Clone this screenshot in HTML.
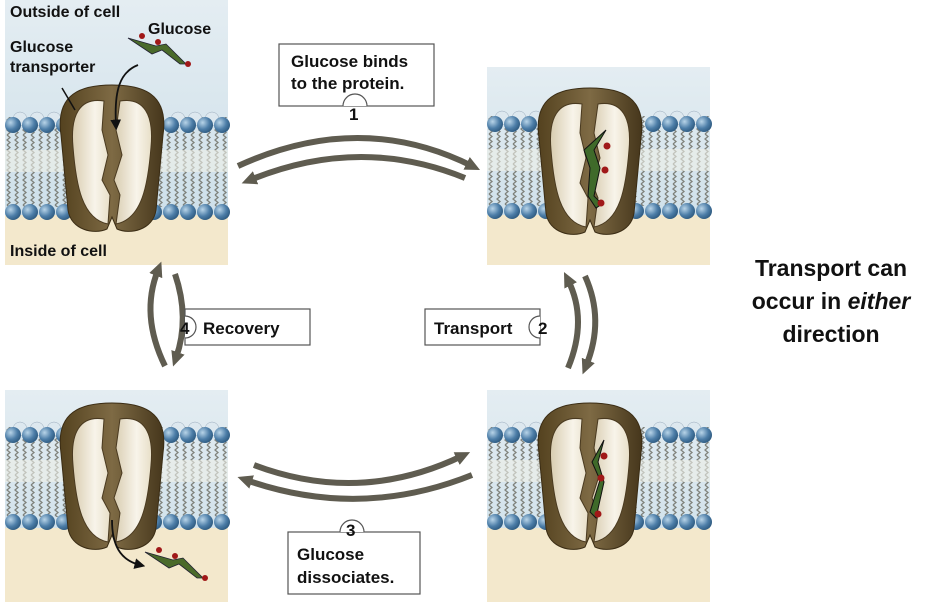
<!DOCTYPE html>
<html><head><meta charset="utf-8"><style>
body{margin:0;background:#fff;width:927px;height:602px;overflow:hidden}
svg{display:block}
.t{font-family:"Liberation Sans",sans-serif;font-weight:bold;fill:#111}
</style></head><body>
<svg width="927" height="602" viewBox="0 0 927 602" xmlns="http://www.w3.org/2000/svg">
<defs>
<linearGradient id="sky" x1="0" y1="0" x2="0" y2="1"><stop offset="0" stop-color="#e4edf2"/><stop offset="1" stop-color="#c9dde8"/></linearGradient>
<linearGradient id="shell" x1="0" y1="0" x2="1" y2="0"><stop offset="0" stop-color="#54421f"/><stop offset=".5" stop-color="#7e6a44"/><stop offset="1" stop-color="#46371c"/></linearGradient>
<linearGradient id="lobe" x1="0" y1="0" x2="1" y2="0"><stop offset="0" stop-color="#d8ccb0"/><stop offset=".6" stop-color="#f8f4ea"/><stop offset="1" stop-color="#e8dfc8"/></linearGradient>
<radialGradient id="head" cx=".35" cy=".35" r=".7"><stop offset="0" stop-color="#b8d4e8"/><stop offset=".6" stop-color="#4d7ea8"/><stop offset="1" stop-color="#2e5a80"/></radialGradient>
<pattern id="tails" width="8" height="10" patternUnits="userSpaceOnUse"><path d="M2 0 L5 2.5 L2 5 L5 7.5 L2 10" stroke="#6a6a60" stroke-width="1.3" fill="none"/></pattern>
<marker id="ah" markerUnits="userSpaceOnUse" markerWidth="16" markerHeight="16" refX="6" refY="8" orient="auto"><path d="M0 1 L15 8 L0 15 Z" fill="#5f5c50"/></marker>
<marker id="bh" markerWidth="6" markerHeight="6" refX="3" refY="3" orient="auto"><path d="M0 0 L6 3 L0 6 Z" fill="#111"/></marker>
<g id="mem">
<rect x="0" y="-8" width="223" height="90" fill="url(#tails)" opacity=".8"/>
<rect x="0" y="25" width="223" height="22" fill="#eef0e8" opacity=".6"/>
<g fill="#dde8ef" stroke="#9ab" stroke-width=".5"><circle cx="15" cy="-6" r="7"/><circle cx="32" cy="-6" r="7"/><circle cx="49" cy="-6" r="7"/><circle cx="173" cy="-6" r="7"/><circle cx="190" cy="-6" r="7"/><circle cx="207" cy="-6" r="7"/></g>
<g fill="url(#head)"><circle cx="8" cy="0" r="8"/><circle cx="25" cy="0" r="8"/><circle cx="42" cy="0" r="8"/><circle cx="59" cy="0" r="8"/><circle cx="166" cy="0" r="8"/><circle cx="183" cy="0" r="8"/><circle cx="200" cy="0" r="8"/><circle cx="217" cy="0" r="8"/>
<circle cx="8" cy="87" r="8"/><circle cx="25" cy="87" r="8"/><circle cx="42" cy="87" r="8"/><circle cx="59" cy="87" r="8"/><circle cx="76" cy="87" r="8"/><circle cx="149" cy="87" r="8"/><circle cx="166" cy="87" r="8"/><circle cx="183" cy="87" r="8"/><circle cx="200" cy="87" r="8"/><circle cx="217" cy="87" r="8"/></g>
</g>
<g id="tp">
<path d="M-51 50 C-57 8 -30 0 0 0 C30 0 57 8 51 50 L44 125 C41 145 18 150 5 144 L0 132 L-5 144 C-18 150 -41 145 -44 125 Z" fill="url(#shell)" stroke="#3a2c14" stroke-width="1"/>
<path d="M-8 16 C-32 12 -42 30 -39 62 C-36 100 -30 134 -4 139 L-2 110 L-10 95 L-4 70 L-10 45 Z" fill="url(#lobe)" stroke="#4a3a20" stroke-width="1"/>
<path d="M8 16 C32 12 42 30 39 62 C36 100 30 134 4 139 L8 110 L2 95 L10 70 L4 45 Z" fill="url(#lobe)" stroke="#4a3a20" stroke-width="1"/>
</g>
<g id="glu"><path d="M0 0 L28 8 L38 6 L58 26 L52 26 L34 12 L24 16 Z" fill="#4a6a2a" stroke="#223" stroke-width=".8"/><circle cx="14" cy="-2" r="3" fill="#a01818"/><circle cx="30" cy="4" r="3" fill="#a01818"/><circle cx="60" cy="26" r="3" fill="#a01818"/></g>
</defs>

<rect x="5" y="0" width="223" height="265" fill="url(#sky)"/>
<rect x="5" y="215" width="223" height="50" fill="#f3e8cc"/>
<use href="#mem" x="5" y="125"/>
<use href="#tp" x="112" y="85"/>
<use href="#glu" x="128" y="38"/>
<path d="M138 65 C120 72 114 90 116 125" stroke="#111" stroke-width="1.8" fill="none" marker-end="url(#bh)"/>
<path d="M62 88 L75 110" stroke="#111" stroke-width="1.5"/>
<text class="t" x="10" y="17" font-size="16">Outside of cell</text>
<text class="t" x="148" y="34" font-size="16">Glucose</text>
<text class="t" x="10" y="52" font-size="16">Glucose</text>
<text class="t" x="10" y="72" font-size="16">transporter</text>
<text class="t" x="10" y="256" font-size="16">Inside of cell</text>

<rect x="487" y="67" width="223" height="198" fill="url(#sky)"/>
<rect x="487" y="215" width="223" height="50" fill="#f3e8cc"/>
<use href="#mem" x="487" y="124"/>
<use href="#tp" x="590" y="88"/>
<path d="M606 130 L594 150 L600 168 L594 196 L602 204 L596 208 L588 196 L590 168 L584 150 Z" fill="#3f6a2a" stroke="#111" stroke-width="1"/>
<circle cx="607" cy="146" r="3.5" fill="#a01818"/><circle cx="605" cy="170" r="3.5" fill="#a01818"/><circle cx="601" cy="203" r="3.5" fill="#a01818"/>

<rect x="5" y="390" width="223" height="212" fill="url(#sky)"/>
<rect x="5" y="528" width="223" height="74" fill="#f3e8cc"/>
<use href="#mem" x="5" y="435"/>
<use href="#tp" x="112" y="403"/>
<use href="#glu" x="145" y="552"/>
<path d="M112 520 C112 545 120 560 140 565" stroke="#111" stroke-width="1.8" fill="none" marker-end="url(#bh)"/>

<rect x="487" y="390" width="223" height="212" fill="url(#sky)"/>
<rect x="487" y="528" width="223" height="74" fill="#f3e8cc"/>
<use href="#mem" x="487" y="435"/>
<use href="#tp" x="590" y="403"/>
<path d="M604 440 L592 462 L600 480 L590 512 L596 518 L604 482 L598 462 Z" fill="#3f6a2a" stroke="#111" stroke-width="1"/>
<circle cx="604" cy="456" r="3.5" fill="#a01818"/><circle cx="601" cy="478" r="3.5" fill="#a01818"/><circle cx="598" cy="514" r="3.5" fill="#a01818"/>

<g stroke="#5f5c50" stroke-width="6" fill="none">
<path d="M238 166 Q360 110 472 166" marker-end="url(#ah)"/>
<path d="M465 178 Q360 135 250 180" marker-end="url(#ah)"/>
<path d="M254 465 Q360 505 462 456" marker-end="url(#ah)"/>
<path d="M472 475 Q360 520 246 480" marker-end="url(#ah)"/>
<path d="M568 368 Q588 320 568 280" marker-end="url(#ah)"/>
<path d="M585 276 Q605 320 586 366" marker-end="url(#ah)"/>
<path d="M165 366 Q140 315 158 270" marker-end="url(#ah)"/>
<path d="M175 274 Q190 318 176 358" marker-end="url(#ah)"/>
</g>

<g fill="#fff" stroke="#555" stroke-width="1.2">
<rect x="279" y="44" width="155" height="62"/>
<rect x="185" y="309" width="125" height="36"/>
<rect x="425" y="309" width="115" height="36"/>
<rect x="288" y="532" width="132" height="62"/>
</g>
<g fill="#fff" stroke="#555" stroke-width="1.2">
<path d="M343 106 A12 12 0 0 1 367 106"/>
<path d="M540 316 A11 11 0 0 0 540 338"/>
<path d="M185 316 A11 11 0 0 1 185 338"/>
<path d="M340 532 A12 12 0 0 1 364 532"/>
</g>
<g class="t" font-size="17">
<text x="291" y="67">Glucose binds</text>
<text x="291" y="89">to the protein.</text>
<text x="349" y="120">1</text>
<text x="203" y="334">Recovery</text>
<text x="180" y="334">4</text>
<text x="434" y="334">Transport</text>
<text x="538" y="334">2</text>
<text x="346" y="536">3</text>
<text x="297" y="560">Glucose</text>
<text x="297" y="583">dissociates.</text>
</g>
<g class="t" font-size="23" text-anchor="middle">
<text x="831" y="276">Transport can</text>
<text x="831" y="309">occur in <tspan font-style="italic">either</tspan></text>
<text x="831" y="342">direction</text>
</g>
</svg>
</body></html>
